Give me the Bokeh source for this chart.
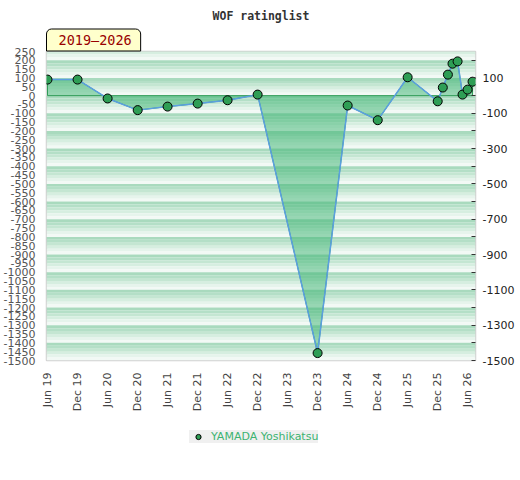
import math
from datetime import datetime

from bokeh.plotting import figure
from bokeh.layouts import column
from bokeh.models import (Range1d, LinearAxis, FixedTicker, DatetimeTickFormatter,
                          PrintfTickFormatter, Title, Legend, LegendItem, ColumnDataSource)
from bokeh.embed import file_html
from bokeh.resources import INLINE

# ---------------- data ----------------
title_text = "WOF ratinglist"
period_text = "2019–2026"
player_name = "YAMADA Yoshikatsu"

dates = ["2019-06-01", "2019-12-01", "2020-06-01", "2020-12-01", "2021-06-01",
         "2021-12-01", "2022-06-01", "2022-12-01", "2023-12-01", "2024-06-01",
         "2024-12-01", "2025-06-01", "2025-12-01", "2026-01-01", "2026-02-01",
         "2026-03-01", "2026-04-01", "2026-05-01", "2026-06-01", "2026-07-01"]
ratings = [91, 91, -16, -82, -62, -45, -26, 6, -1458, -56,
           -139, 104, -32, 46, 119, 181, 194, 6, 34, 79]

x_tick_dates = ["2019-06-01", "2019-12-01", "2020-06-01", "2020-12-01", "2021-06-01",
                "2021-12-01", "2022-06-01", "2022-12-01", "2023-06-01", "2023-12-01",
                "2024-06-01", "2024-12-01", "2025-06-01", "2025-12-01", "2026-06-01"]
left_ticks = list(range(-1500, 251, 50))
right_ticks = [100, -100, -300, -500, -700, -900, -1100, -1300, -1500]
right_minor_ticks = [200, 0, -200, -400, -600, -800, -1000, -1200, -1400]

x_start, x_end = datetime(2019, 5, 26), datetime(2026, 7, 19)
y_start, y_end = -1500, 250


def to_dt(s):
    return datetime.fromisoformat(s)


def to_ms(s):
    return (to_dt(s) - datetime(1970, 1, 1)).total_seconds() * 1000.0


xd = [to_dt(d) for d in dates]

marker_style = dict(size=9, fill_color="#2e9e55", line_color="black", line_width=1)

# ---------------- figure ----------------
p = figure(x_axis_type="datetime", output_backend="svg", toolbar_location=None,
           frame_width=429, frame_height=309,
           min_border_left=46, min_border_right=40, min_border_top=51, min_border_bottom=50,
           x_range=Range1d(x_start, x_end), y_range=Range1d(y_start, y_end))
p.grid.visible = False
p.background_fill_color = "white"
p.border_fill_color = "white"
p.outline_line_color = "#d0d0d0"
p.outline_line_width = 1.5

# striped background (100-unit periods, dark at the top fading to white)
stripe_colors = ["#a9dabe", "#b4dfc7", "#c4e6d2", "#d6eee0", "#e6f4ec", "#f2f9f5"]
tops, bottoms, cols = [], [], []
for top in range(300, y_start, -100):
    n = len(stripe_colors)
    for i, c in enumerate(stripe_colors):
        tops.append(top - i * 100.0 / n)
        bottoms.append(top - (i + 1) * 100.0 / n)
        cols.append(c)
stripes = ColumnDataSource(dict(top=tops, bottom=bottoms, color=cols,
                                left=[x_start] * len(tops), right=[x_end] * len(tops)))
p.quad(left="left", right="right", top="top", bottom="bottom", source=stripes,
       fill_color="color", line_color=None)

# area between series and zero
px = [xd[0]] + xd + [xd[-1]]
py = [0] + ratings + [0]
p.patch(px, py, fill_color="#3cb371", fill_alpha=0.5, line_color="#2e9b55", line_width=1)
p.line(xd, ratings, line_color="#5b9fe0", line_width=1.5)
p.scatter(xd, ratings, **marker_style)

# ---------------- axes ----------------
yl = p.yaxis[0]
yl.ticker = FixedTicker(ticks=left_ticks, minor_ticks=[])
yl.formatter = PrintfTickFormatter(format="%d")
yl.major_tick_in = 0
yl.major_tick_out = 0
yl.minor_tick_in = 0
yl.minor_tick_out = 0
yl.axis_line_color = None
yl.major_label_standoff = 11
yl.major_label_text_font = "DejaVu Sans"
yl.major_label_text_font_size = "11px"
yl.major_label_text_color = "#555555"

yr = LinearAxis(ticker=FixedTicker(ticks=right_ticks, minor_ticks=right_minor_ticks),
                formatter=PrintfTickFormatter(format="%d"))
yr.major_tick_in = 4
yr.major_tick_out = 0
yr.minor_tick_in = 4
yr.minor_tick_out = 0
yr.major_tick_line_color = "#333333"
yr.minor_tick_line_color = "#333333"
yr.axis_line_color = None
yr.major_label_standoff = 7
yr.major_label_text_font = "DejaVu Sans"
yr.major_label_text_font_size = "11px"
yr.major_label_text_color = "#222222"
p.add_layout(yr, "right")

xa = p.xaxis[0]
xa.ticker = FixedTicker(ticks=[to_ms(d) for d in x_tick_dates], minor_ticks=[])
fmt = "%b %y"
xa.formatter = DatetimeTickFormatter(days=fmt, months=fmt, years=fmt, hours=fmt,
                                     minutes=fmt, seconds=fmt, milliseconds=fmt,
                                     microseconds=fmt, minsec=fmt, hourmin=fmt)
xa.major_label_orientation = math.pi / 2
xa.major_tick_in = 0
xa.major_tick_out = 0
xa.minor_tick_in = 0
xa.minor_tick_out = 0
xa.axis_line_color = None
xa.major_label_standoff = 12
xa.major_label_text_font = "DejaVu Sans"
xa.major_label_text_font_size = "11px"
xa.major_label_text_color = "#444444"

# ---------------- titles ----------------
p.title.text = title_text
p.title.align = "center"
p.title.text_font = "DejaVu Sans Mono"
p.title.text_font_style = "bold"
p.title.text_font_size = "11.5px"
p.title.text_color = "#333333"
p.title.standoff = 8

period = Title(text=period_text, align="left", offset=0, standoff=1,
               text_font="DejaVu Sans Mono", text_font_size="13.5px",
               text_font_style="normal", text_color="#990000",
               background_fill_color="#ffffcc", background_fill_alpha=1.0,
               border_line_color="black", border_line_width=1,
               padding=(12, 9, 3, 3),
               border_radius=dict(top_left=5, top_right=5, bottom_right=0, bottom_left=0))
p.add_layout(period, "above")

# ---------------- legend (separate strip below the chart) ----------------
p2 = figure(output_backend="svg", toolbar_location=None, width=515, height=56,
            min_border=0, x_range=Range1d(0, 1), y_range=Range1d(0, 1),
            x_axis_location=None, y_axis_location=None)
p2.grid.visible = False
p2.outline_line_color = None
p2.background_fill_color = "white"
p2.border_fill_color = "white"
# same series drawn far outside this strip's ranges (clipped away); it only feeds the legend glyph
leg_r = p2.scatter([to_ms(d) for d in dates], ratings, **marker_style)

legend = Legend(items=[LegendItem(label=player_name, renderers=[leg_r])],
                location=(143, 27), orientation="horizontal",
                background_fill_color="#f0f0f0", background_fill_alpha=1.0,
                border_line_color=None, padding=3, margin=0, spacing=0,
                glyph_width=18, glyph_height=13, label_standoff=4, label_height=13,
                label_text_font="DejaVu Sans", label_text_font_size="11px",
                label_text_color="#3cb371")
p2.add_layout(legend)

layout = column(p, p2, spacing=0)
open("out.html", "w").write(file_html(layout, INLINE))
